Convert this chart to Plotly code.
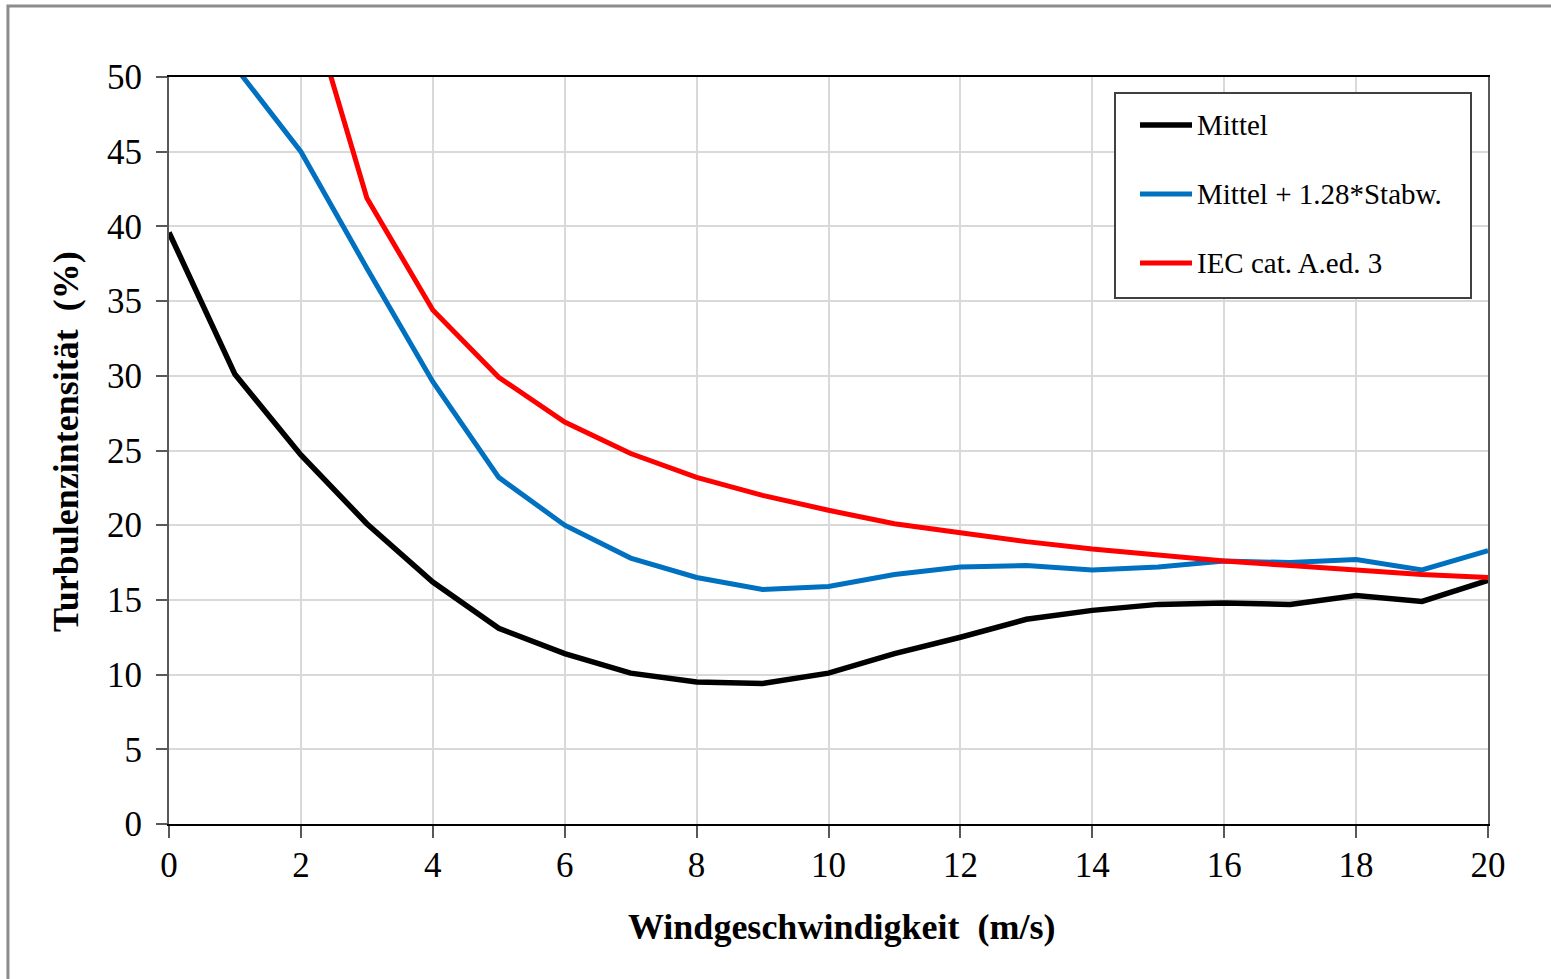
import plotly.graph_objects as go

# Windgeschwindigkeit (m/s)
wind_speed = list(range(0, 21))

# Turbulenzintensität (%)
mittel = [39.6, 30.1, 24.7, 20.1, 16.2, 13.1, 11.4, 10.1, 9.5, 9.4, 10.1,
          11.4, 12.5, 13.7, 14.3, 14.7, 14.8, 14.7, 15.3, 14.9, 16.3]
mittel_std = [None, 50.7, 45.0, 37.2, 29.6, 23.2, 20.0, 17.8, 16.5, 15.7, 15.9,
              16.7, 17.2, 17.3, 17.0, 17.2, 17.6, 17.5, 17.7, 17.0, 18.3]
iec_a3 = [None, None, 56.8, 41.9, 34.4, 29.9, 26.9, 24.8, 23.2, 22.0, 21.0,
          20.1, 19.5, 18.9, 18.4, 18.0, 17.6, 17.3, 17.0, 16.7, 16.5]

series_names = ["Mittel", "Mittel + 1.28*Stabw.", "IEC cat. A.ed. 3"]
series_colors = ["#000000", "#0070C0", "#FF0000"]
series_widths = [5.5, 5, 5]
series_values = [mittel, mittel_std, iec_a3]

x_title = "Windgeschwindigkeit\u00a0\u00a0(m/s)"
y_title = "Turbulenzintensität\u00a0\u00a0(%)"

FONT = "Liberation Serif, Times New Roman, serif"

# plot area in pixels (for converting decoration positions to paper coords)
PX_L, PX_R, PX_T, PX_B = 169, 1488, 77, 824


def px(xp):
    return (xp - PX_L) / (PX_R - PX_L)


def py(yp):
    return (PX_B - yp) / (PX_B - PX_T)


fig = go.Figure()
for name, vals, col, w in zip(series_names, series_values, series_colors, series_widths):
    fig.add_trace(go.Scatter(
        x=wind_speed, y=vals, mode="lines", name=name,
        line=dict(color=col, width=w), connectgaps=False,
    ))

# Outer chart border and Excel-style legend box
shapes = [
    dict(type="rect", xref="paper", yref="paper",
         x0=-0.1221, x1=1.06, y0=-0.22, y1=1.095,
         line=dict(color="#8c8c8c", width=3), layer="below"),
    dict(type="rect", xref="paper", yref="paper",
         x0=px(1115), x1=px(1471), y0=py(298), y1=py(93),
         line=dict(color="#404040", width=2), fillcolor="white", layer="above"),
]
annotations = []
entry_y = [125, 194, 263]
for name, col, w, ey in zip(series_names, series_colors, series_widths, entry_y):
    shapes.append(dict(type="line", xref="paper", yref="paper",
                       x0=px(1140), x1=px(1192), y0=py(ey), y1=py(ey),
                       line=dict(color=col, width=w), layer="above"))
    annotations.append(dict(xref="paper", yref="paper", x=px(1195), y=py(ey),
                            xanchor="left", yanchor="middle", showarrow=False,
                            text=name, font=dict(family=FONT, size=29, color="black")))

# Axis titles
annotations.append(dict(xref="paper", yref="paper", x=px(841), y=py(927),
                        xanchor="center", yanchor="middle", showarrow=False,
                        text=x_title, font=dict(family=FONT, size=36, color="black", weight="bold")))
annotations.append(dict(xref="paper", yref="paper", x=px(66), y=py(442),
                        xanchor="center", yanchor="middle", showarrow=False, textangle=-90,
                        text=y_title, font=dict(family=FONT, size=36, color="black", weight="bold")))

fig.update_layout(
    width=1551, height=979,
    margin=dict(l=169, r=63, t=77, b=155),
    paper_bgcolor="white", plot_bgcolor="white",
    font=dict(family=FONT, color="black", size=35),
    showlegend=False,
    xaxis=dict(
        range=[0, 20], dtick=2, tick0=0,
        showgrid=True, gridcolor="#d9d9d9", gridwidth=1.5,
        showline=True, linecolor="black", linewidth=2, mirror=True,
        ticks="outside", ticklen=12, tickcolor="#595959", tickwidth=2,
        zeroline=False, ticklabelstandoff=-3,
        tickfont=dict(family=FONT, size=35),
    ),
    yaxis=dict(
        range=[0, 50], dtick=5, tick0=0,
        showgrid=True, gridcolor="#d9d9d9", gridwidth=1.5,
        showline=True, linecolor="#595959", linewidth=2, mirror=True,
        ticks="outside", ticklen=11, tickcolor="#595959", tickwidth=2,
        zeroline=False, ticklabelstandoff=7,
        tickfont=dict(family=FONT, size=35),
    ),
    shapes=shapes,
    annotations=annotations,
)

fig.write_html("out.html")
